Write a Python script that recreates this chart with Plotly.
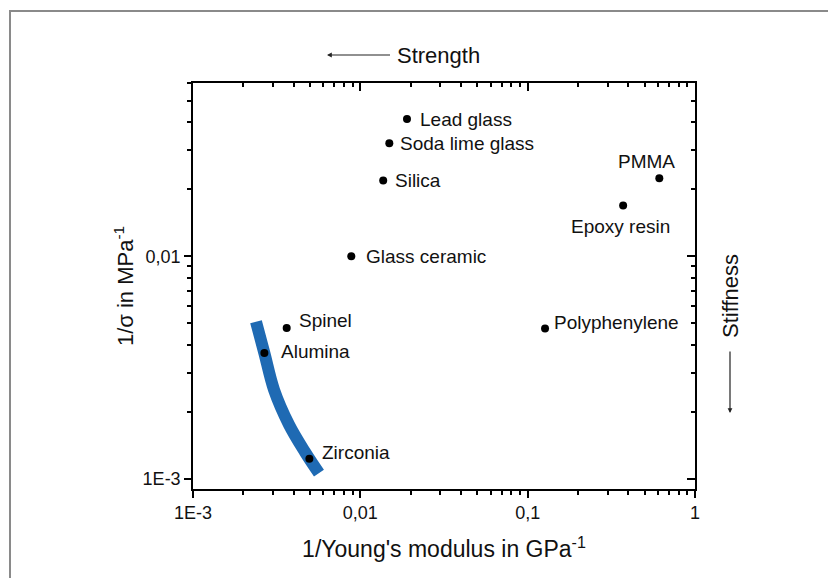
import numpy as np
import plotly.graph_objects as go

# ---------------- data ----------------
materials = ["Lead glass", "Soda lime glass", "Silica", "Glass ceramic", "Spinel",
             "Alumina", "Zirconia", "Polyphenylene", "PMMA", "Epoxy resin"]
inv_modulus = [0.0190, 0.0149, 0.0137, 0.00883, 0.00363,
               0.00267, 0.00496, 0.127, 0.612, 0.372]          # 1/E in GPa^-1
inv_strength = [0.0413, 0.0322, 0.0219, 0.0100, 0.00476,
                0.00367, 0.00123, 0.00473, 0.0224, 0.0169]     # 1/sigma in MPa^-1

band_inv_modulus = [0.00238, 0.00267, 0.00305, 0.00375, 0.00467, 0.00566]
band_inv_strength = [0.00508, 0.00367, 0.00251, 0.00175, 0.00132, 0.00106]

x_tickvals = [0.001, 0.01, 0.1, 1]
x_ticktext = ["1E-3", "0,01", "0,1", "1"]
y_tickvals = [0.001, 0.01]
y_ticktext = ["1E-3", "0,01"]
x_minor = [m * d for d in (0.001, 0.01, 0.1) for m in range(2, 10)]
y_minor = [m * d for d in (0.001, 0.01) for m in range(2, 10)]

x_range = [0.001, 1]
y_range = [0.0009, 0.06]

# ---------------- label placement (pixels) ----------------
label_place = {
    "Lead glass": (11, 0, "left"),
    "Soda lime glass": (9, 0, "left"),
    "Silica": (10, 0, "left"),
    "Glass ceramic": (13, 0, "left"),
    "Spinel": (10, 7, "left"),
    "Alumina": (15, 2, "left"),
    "Zirconia": (11, 6, "left"),
    "Polyphenylene": (7, 6, "left"),
    "PMMA": (-13, 17, "center"),
    "Epoxy resin": (-3, -21, "center"),
}

FONT = "Arial, Liberation Sans, sans-serif"
OFF = 8  # browser body margin
W, H = 836 - OFF, 578 - OFF
L, R, T, B = 193 - OFF, 695 - OFF, 83 - OFF, 489 - OFF


def px_x(p):
    return (p - OFF - L) / (R - L)


def px_y(p):
    return (B - (p - OFF)) / (B - T)


fig = go.Figure()

fig.add_trace(go.Scatter(
    x=band_inv_modulus, y=band_inv_strength, mode="lines",
    line=dict(color="#1f6ab3", width=12, shape="spline"),
    hoverinfo="skip", showlegend=False))

fig.add_trace(go.Scatter(
    x=inv_modulus, y=inv_strength, mode="markers",
    marker=dict(color="black", size=8),
    text=materials, showlegend=False))

# dummy traces for mirrored (inside-tick) axes
fig.add_trace(go.Scatter(x=[], y=[], xaxis="x2", yaxis="y", showlegend=False))
fig.add_trace(go.Scatter(x=[], y=[], xaxis="x", yaxis="y2", showlegend=False))

annotations = []
for name, xv, yv in zip(materials, inv_modulus, inv_strength):
    xs, ys, anc = label_place[name]
    annotations.append(dict(
        x=np.log10(xv), y=np.log10(yv), xref="x", yref="y",
        text=name, showarrow=False, xanchor=anc, yanchor="middle",
        xshift=xs, yshift=ys,
        font=dict(family=FONT, size=19, color="#111111")))

# Strength: text with arrow pointing left
annotations.append(dict(
    x=px_x(327), y=px_y(55), xref="paper", yref="paper", text="Strength",
    showarrow=True, ax=111, ay=0, arrowhead=2, arrowsize=0.8, arrowwidth=1.2,
    arrowcolor="#222222", startstandoff=5,
    font=dict(family=FONT, size=22, color="#111111")))
# Stiffness: rotated text with arrow pointing down
annotations.append(dict(
    x=px_x(730), y=px_y(413), xref="paper", yref="paper", text="Stiffness",
    textangle=-90, showarrow=True, ax=0, ay=-117, arrowhead=2, arrowsize=0.8,
    arrowwidth=1.2, arrowcolor="#222222", startstandoff=12,
    font=dict(family=FONT, size=22, color="#111111")))

axis_common = dict(
    type="log", showgrid=False, zeroline=False, showline=True,
    linecolor="black", linewidth=1.5, tickcolor="black", tickwidth=1.5,
)

fig.update_layout(
    width=W, height=H,
    margin=dict(l=L, r=W - R, t=T, b=H - B, pad=0),
    paper_bgcolor="white", plot_bgcolor="white",
    font=dict(family=FONT, color="#111111"),
    xaxis=dict(
        **axis_common, range=[np.log10(x_range[0]), np.log10(x_range[1])],
        ticks="outside", ticklen=7, tickmode="array",
        tickvals=x_tickvals, ticktext=x_ticktext,
        tickfont=dict(family=FONT, size=18, color="#111111"),
        minor=dict(tickmode="array", tickvals=x_minor, ticks="outside",
                   ticklen=4, tickwidth=1.5, tickcolor="black"),
        title=dict(text="1/Young's modulus in GPa<sup>-1</sup>",
                   font=dict(family=FONT, size=23, color="#111111"), standoff=19),
    ),
    yaxis=dict(
        **axis_common, range=[np.log10(y_range[0]), np.log10(y_range[1])],
        ticks="outside", ticklen=7, tickmode="array",
        tickvals=y_tickvals, ticktext=y_ticktext,
        tickfont=dict(family=FONT, size=18, color="#111111"),
        minor=dict(tickmode="array", tickvals=y_minor, ticks="outside",
                   ticklen=4, tickwidth=1.5, tickcolor="black"),
        title=dict(text="1/σ in MPa<sup>-1</sup>",
                   font=dict(family=FONT, size=22, color="#111111"), standoff=3),
    ),
    xaxis2=dict(
        **axis_common, range=[np.log10(x_range[0]), np.log10(x_range[1])],
        overlaying="x", side="top", anchor="y",
        ticks="inside", ticklen=8, tickmode="array",
        tickvals=x_tickvals, showticklabels=False,
        minor=dict(tickmode="array", tickvals=x_minor, ticks="inside",
                   ticklen=4, tickwidth=1.5, tickcolor="black"),
    ),
    yaxis2=dict(
        **axis_common, range=[np.log10(y_range[0]), np.log10(y_range[1])],
        overlaying="y", side="right", anchor="x",
        ticks="inside", ticklen=8, tickmode="array",
        tickvals=y_tickvals, showticklabels=False,
        minor=dict(tickmode="array", tickvals=y_minor, ticks="inside",
                   ticklen=4, tickwidth=1.5, tickcolor="black"),
    ),
    annotations=annotations,
    shapes=[dict(type="rect", xref="paper", yref="paper",
                 x0=px_x(10), x1=px_x(850), y0=px_y(11), y1=px_y(600),
                 line=dict(color="#8a8a8a", width=2), layer="below")],
)

fig.write_html("out.html")
